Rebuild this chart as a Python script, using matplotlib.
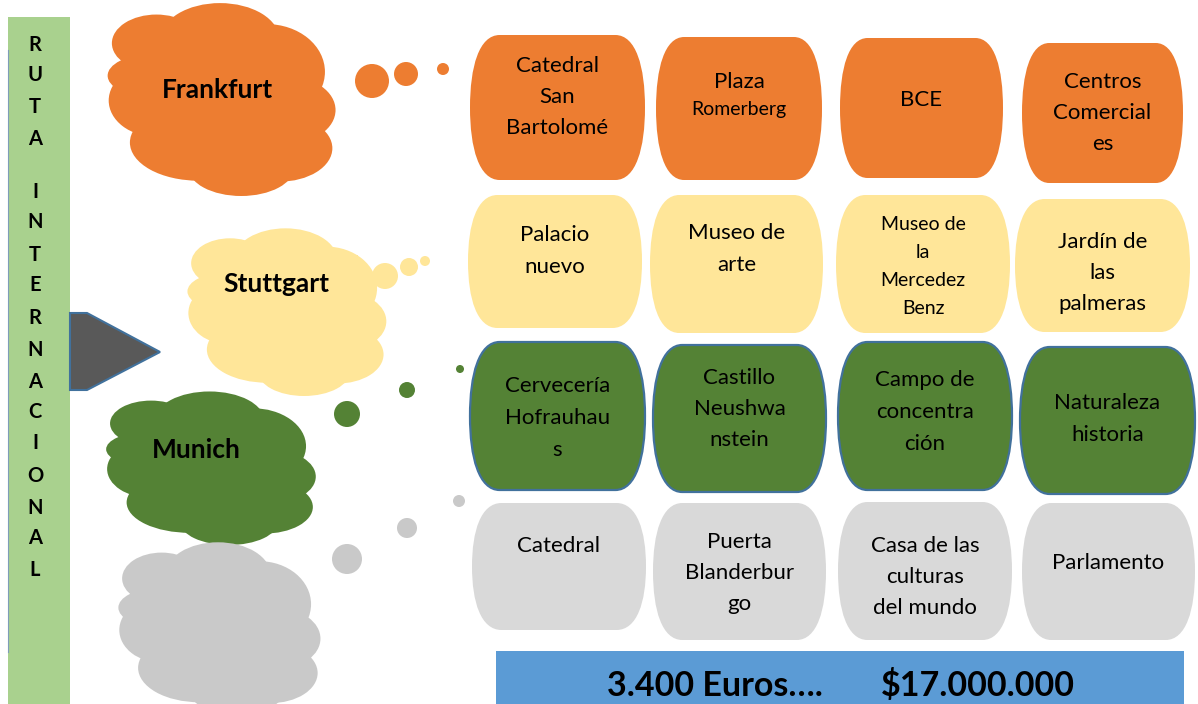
import matplotlib.pyplot as plt
from matplotlib.patches import Ellipse, Circle, Rectangle, Polygon, PathPatch
from matplotlib.path import Path

plt.rcParams['font.family'] = ['Lato', 'DejaVu Sans']

# data
title_letters = "RUTA INTERNACIONAL"
cities = ["Frankfurt", "Stuttgart", "Munich", ""]
city_colors = ["#ED7D31", "#FFE699", "#548235", "#C9C9C9"]
box_colors = ["#ED7D31", "#FFE699", "#548235", "#D9D9D9"]
places = [
    ["Catedral\nSan\nBartolomé", "Plaza\nRomerberg", "BCE", "Centros\nComercial\nes"],
    ["Palacio\nnuevo", "Museo de\narte", "Museo de\nla\nMercedez\nBenz", "Jardín de\nlas\npalmeras"],
    ["Cervecería\nHofrauhau\ns", "Castillo\nNeushwa\nnstein", "Campo de\nconcentra\nción", "Naturaleza\nhistoria"],
    ["Catedral", "Puerta\nBlanderbur\ngo", "Casa de las\nculturas\ndel mundo", "Parlamento"],
]
price_eur = "3.400 Euros…."
price_cop = "$17.000.000"

# layout (pixels)
cloud_boxes = [(114, 5, 326, 196), (193, 230, 378, 396), (112, 393, 307, 545), (124, 544, 312, 716)]
cloud_text_pos = [(217, 90), (276, 284), (196, 450)]
dots = [
    [(372, 81, 17), (406, 74, 12), (443, 69, 6)],
    [(385, 276, 13), (409, 267, 9), (425, 261, 5)],
    [(347, 414, 13), (407, 390, 8), (460, 369, 4)],
    [(347, 559, 15), (407, 528, 10), (459, 501, 6)],
]
boxes = [
    [(470, 35, 645, 180), (656, 37, 822, 180), (840, 38, 1003, 178), (1022, 43, 1183, 183)],
    [(468, 195, 642, 328), (650, 195, 823, 333), (836, 195, 1010, 333), (1015, 199, 1190, 332)],
    [(470, 342, 645, 490), (653, 345, 826, 492), (838, 342, 1012, 490), (1020, 347, 1195, 494)],
    [(472, 503, 646, 630), (653, 503, 826, 640), (838, 502, 1012, 640), (1022, 503, 1195, 640)],
]
text_y = [
    [97, 96, 100, 113],
    [251, 249, 267, 273],
    [418, 409, 412, 419],
    [546, 573, 577, 563],
]
small_font = {(0, 1), (1, 2)}

lobes = [(0.2, 0.2, 0.42, 0.3), (0.5, 0.18, 0.56, 0.38), (0.72, 0.35, 0.55, 0.5),
         (0.82, 0.55, 0.45, 0.35), (0.78, 0.75, 0.5, 0.35), (0.6, 0.85, 0.5, 0.3),
         (0.4, 0.72, 0.65, 0.4), (0.2, 0.5, 0.45, 0.38), (0.17, 0.37, 0.4, 0.22),
         (0.5, 0.5, 0.7, 0.65)]


def cloud(ax, x0, y0, x1, y1, color):
    w = x1 - x0
    h = y1 - y0
    for cx, cy, ew, eh in lobes:
        ax.add_patch(Ellipse((x0 + cx * w, y0 + cy * h), ew * w, eh * h,
                             facecolor=color, edgecolor="none"))


def barrel(ax, x0, y0, x1, y1, color, edge):
    w = x1 - x0
    h = y1 - y0
    a = 0.17 * w
    ym = (y0 + y1) / 2
    verts = [(x0 + a, y0), (x1 - a, y0),
             (x1 - a * 0.3, y0), (x1, y0 + h * 0.22), (x1, ym),
             (x1, y1 - h * 0.22), (x1 - a * 0.3, y1), (x1 - a, y1),
             (x0 + a, y1),
             (x0 + a * 0.3, y1), (x0, y1 - h * 0.22), (x0, ym),
             (x0, y0 + h * 0.22), (x0 + a * 0.3, y0), (x0 + a, y0),
             (x0 + a, y0)]
    codes = [Path.MOVETO, Path.LINETO] + [Path.CURVE4] * 6 + [Path.LINETO] + [Path.CURVE4] * 6 + [Path.CLOSEPOLY]
    ax.add_patch(PathPatch(Path(verts, codes), facecolor=color,
                           edgecolor=edge if edge else "none", linewidth=1.6))


fig = plt.figure(figsize=(11.98, 7.04), dpi=100)
ax = fig.add_axes([0, 0, 1, 1])
ax.set_xlim(0, 1198)
ax.set_ylim(704, 0)
ax.axis("off")

# left green bar
ax.add_patch(Rectangle((8, 17), 62, 700, facecolor="#A9D18E", edgecolor="none"))
ax.plot([7.5, 7.5], [50, 652], color="#7F9DB9", linewidth=0.8)
ys = [45, 75, 107, 139, 165, 192, 222, 255, 285, 318, 350, 382, 412, 443, 476, 508, 538, 570]
for ch, y in zip(title_letters, ys):
    ax.text(35, y, ch, ha="center", va="center", fontsize=14.5, fontweight="bold")

# arrow
ax.add_patch(Polygon([(70, 313), (87, 313), (160, 352), (87, 390), (70, 390)],
                     facecolor="#595959", edgecolor="#41719C", linewidth=1.5))

# clouds
for i, (x0, y0, x1, y1) in enumerate(cloud_boxes):
    cloud(ax, x0, y0, x1, y1, city_colors[i])
    for cx, cy, r in dots[i]:
        ax.add_patch(Circle((cx, cy), r, facecolor=city_colors[i], edgecolor="none"))
ax.add_patch(Rectangle((202, 255), 156, 50, facecolor=city_colors[1], edgecolor="none"))
ax.add_patch(Rectangle((150, 421), 136, 40, facecolor=city_colors[2], edgecolor="none"))
for name, (tx, ty) in zip(cities, cloud_text_pos):
    ax.text(tx, ty, name, ha="center", va="center", fontsize=19, fontweight="bold")

# attraction boxes
for r, row in enumerate(places):
    for c, label in enumerate(row):
        x0, y0, x1, y1 = boxes[r][c]
        barrel(ax, x0, y0, x1, y1, box_colors[r], "#41719C" if r == 2 else None)
        lines = label.split("\n")
        step = 28 if (r, c) in small_font else 31.5
        fs = 14 if (r, c) in small_font else 16
        top = text_y[r][c] - step * (len(lines) - 1) / 2
        for k, ln in enumerate(lines):
            f = fs
            if (r, c) == (0, 1) and k == 0:
                f = 16
            ax.text((x0 + x1) / 2, top + k * step, ln, ha="center", va="center", fontsize=f)

# price bar
ax.add_patch(Rectangle((496, 651), 688, 60, facecolor="#5B9BD5", edgecolor="none"))
ax.text(715, 686, price_eur, ha="center", va="center", fontsize=24.5, fontweight="bold")
ax.text(978, 686, price_cop, ha="center", va="center", fontsize=24.5, fontweight="bold")

fig.savefig("out.png", dpi=100)
